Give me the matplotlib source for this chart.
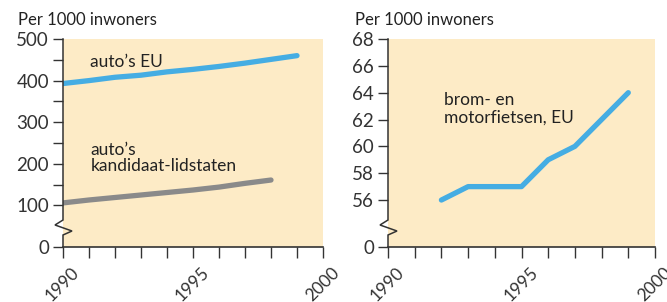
import matplotlib.pyplot as plt
import matplotlib.transforms as mtransforms

# data
years_eu = [1990, 1991, 1992, 1993, 1994, 1995, 1996, 1997, 1998, 1999]
cars_eu = [393, 400, 408, 413, 421, 427, 434, 442, 451, 460]
years_cand = [1990, 1991, 1992, 1993, 1994, 1995, 1996, 1997, 1998]
cars_cand = [106, 113, 119, 125, 131, 137, 144, 153, 161]
years_moto = [1992, 1993, 1994, 1995, 1996, 1997, 1998, 1999]
moto_eu = [56, 57, 57, 57, 59, 60, 62, 64]

BG = '#FDEBC6'
BLUE = '#45ADE3'
GREY = '#8A8A8A'
INK = '#333333'

plt.rcParams['font.family'] = ['Lato', 'DejaVu Sans']

fig = plt.figure(figsize=(6.67, 3.02), dpi=100)
W, H = 667, 302
ax1 = fig.add_axes([63 / W, 1 - 247 / H, 260 / W, 208 / H])
ax2 = fig.add_axes([388 / W, 1 - 247 / H, 267 / W, 208 / H])


def style(ax, width_px):
    ax.set_facecolor(BG)
    for s in ['top', 'right', 'left']:
        ax.spines[s].set_visible(False)
    ax.spines['bottom'].set_color(INK)
    ax.spines['bottom'].set_linewidth(1.2)
    ax.set_xlim(1990, 2000)
    ax.set_xticks([1990, 1995, 2000])
    ax.set_xticks(range(1990, 2001), minor=True)
    ax.tick_params(axis='x', which='both', length=8, width=1, color=INK,
                   labelsize=12.5, labelcolor=INK, pad=3)
    ax.tick_params(axis='y', which='both', length=7, width=1, color=INK,
                   labelsize=13.5, labelcolor=INK, pad=3)
    shift = mtransforms.ScaledTranslation(8 / 100, -2 / 100, fig.dpi_scale_trans)
    for lab in ax.get_xticklabels():
        lab.set_rotation(45)
        lab.set_ha('right')
        lab.set_va('top')
        lab.set_rotation_mode('anchor')
        lab.set_transform(lab.get_transform() + shift)
    # left spine with break zigzag (axes fraction coordinates)
    dx_l = -8 / width_px
    dx_r = 9 / width_px
    y_top, y_l, y_r, y_bot = 1 - (220 - 39) / 208, 1 - (225 - 39) / 208, 1 - (231 - 39) / 208, 1 - (235 - 39) / 208
    xs = [0, 0, dx_l, dx_r, 0, 0]
    ys = [1, y_top, y_l, y_r, y_bot, 0]
    ax.plot(xs, ys, transform=ax.transAxes, color=INK, lw=1.1, clip_on=False,
            solid_joinstyle='miter', zorder=5)


style(ax1, 260)
style(ax2, 267)

# left panel
ax1.set_ylim(0, 500)
ax1.set_yticks([0, 100, 200, 300, 400, 500])
ax1.set_yticks([150, 250, 350, 450], minor=True)
ax1.plot(years_eu, cars_eu, color=BLUE, lw=3.8, solid_capstyle='round')
ax1.plot(years_cand, cars_cand, color=GREY, lw=3.8, solid_capstyle='round')
ax1.text(1991.05, 445, "auto\u2019s EU", fontsize=12.5, color='#222222', va='center')
ax1.text(1991.05, 214, "auto\u2019s\nkandidaat-lidstaten", fontsize=12.5,
         color='#222222', va='center', linespacing=1.05)

# right panel: broken scale, 0 placed below 56
y0 = 52.5
ax2.set_ylim(y0, 68)
ax2.set_yticks([y0, 56, 58, 60, 62, 64, 66, 68])
ax2.set_yticklabels(['0', '56', '58', '60', '62', '64', '66', '68'])
ax2.plot(years_moto, moto_eu, color=BLUE, lw=3.8, solid_capstyle='round')
ax2.text(1992.1, 62.8, "brom- en\nmotorfietsen, EU", fontsize=12.5,
         color='#222222', va='center', linespacing=1.15)

fig.text(18 / W, 1 - 20 / H, "Per 1000 inwoners", fontsize=12, color='#222222', va='center')
fig.text(355 / W, 1 - 20 / H, "Per 1000 inwoners", fontsize=12, color='#222222', va='center')

fig.savefig('out.png', dpi=100)
